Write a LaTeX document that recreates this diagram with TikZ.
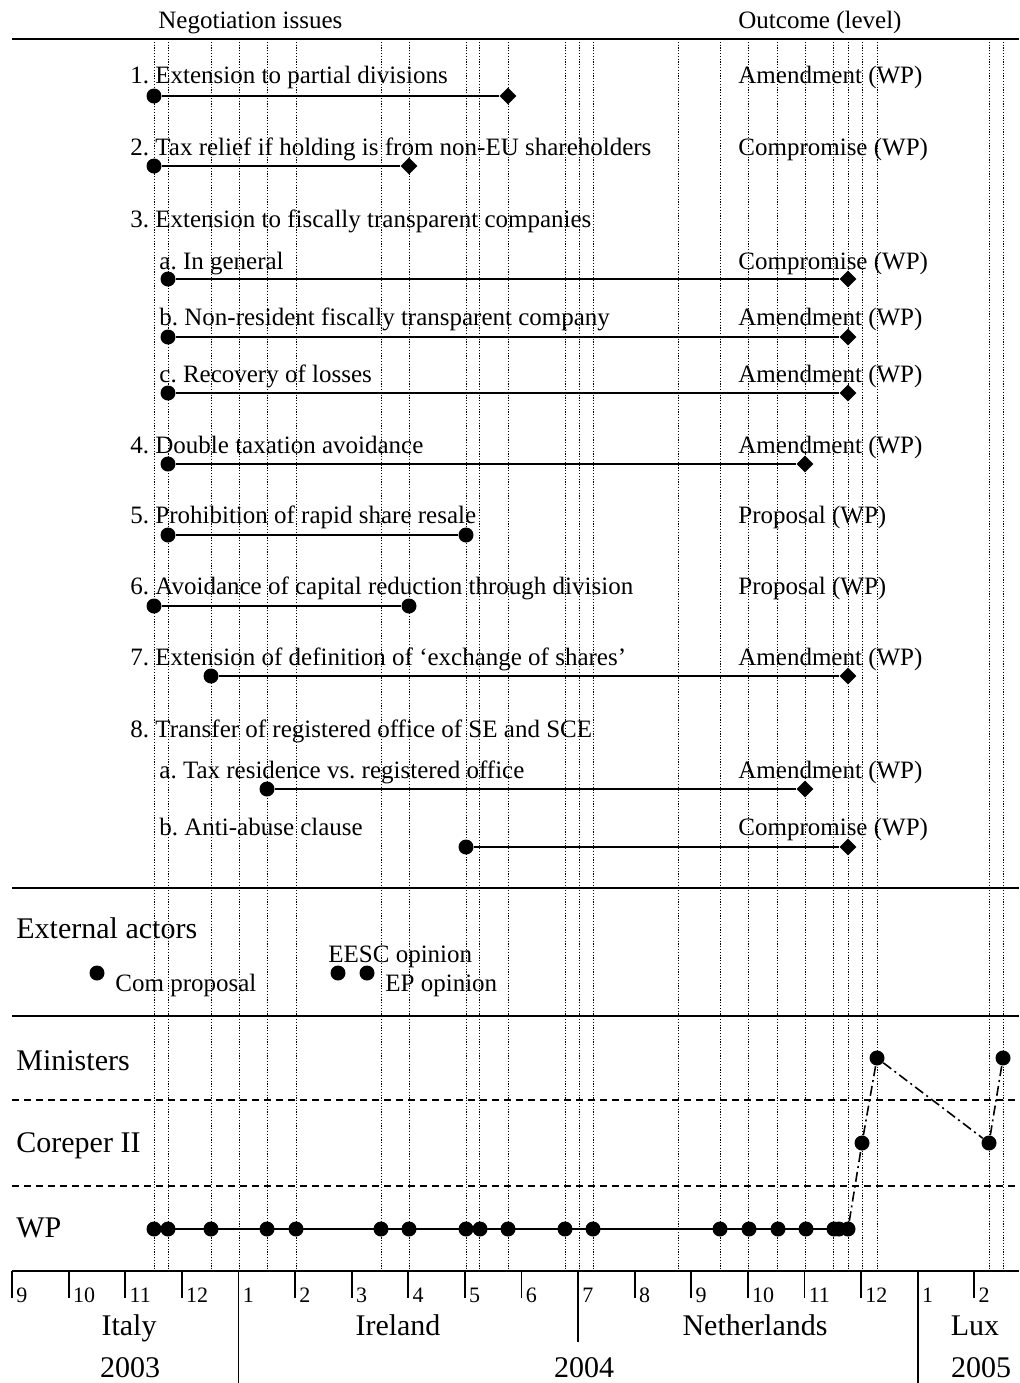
\documentclass[tikz,border=0pt]{standalone}
\usepackage{fontspec}
\setmainfont{Liberation Serif}
\usetikzlibrary{shapes.geometric}
\frenchspacing

\begin{document}
\begin{tikzpicture}[x=0.5pt, y=-0.5pt,
    evt/.style={circle, fill, inner sep=0pt, minimum size=7.5pt},
    endd/.style={diamond, fill, inner sep=0pt, minimum size=8.5pt},
    dateline/.style={line width=0.5pt, dash pattern=on 0.6pt off 0.8pt},
    issueline/.style={line width=1pt},
    sepline/.style={line width=1pt},
    lvline/.style={line width=0.8pt, dash pattern=on 3.5pt off 2.5pt},
    chain/.style={line width=0.8pt, dash pattern=on 5pt off 2pt on 1pt off 2pt},
    tick/.style={line width=0.9pt},
    txt/.style={anchor=base west, inner sep=0pt, font=\fontsize{12.5}{15}\selectfont},
    big/.style={anchor=base west, inner sep=0pt, font=\fontsize{15}{18}\selectfont},
    mon/.style={anchor=base west, inner sep=0pt, font=\fontsize{11}{13}\selectfont},
    pres/.style={anchor=base, inner sep=0pt, font=\fontsize{15}{18}\selectfont}]
    % 参数设置
    \def\xo{12} % 2003年9月刻度
    \def\mw{56.6} % 每月宽度
    \def\ax{1271} % 时间轴

    \useasboundingbox (0,0) rectangle (1019,1383);

    % 会议日期的竖向点线
    \foreach \x in {154,168,211,239,267,296,381,409,466,479,508,565,579,593,678,720,748,777,805,833,848,862,877,989,1003} {
      \draw[dateline] (\x,39) -- (\x,\ax);
    }

    % 横线
    \draw[line width=1.3pt] (12,39) -- (1019,39);
    \draw[sepline] (12,888) -- (1019,888);
    \draw[sepline] (12,1016) -- (1019,1016);
    \draw[lvline] (12,1100) -- (1019,1100);
    \draw[lvline] (12,1186) -- (1019,1186);

    % 表头
    \node[txt] (hissue) at (158,28) {Negotiation issues};
    \node[txt] (hout) at (738,28) {Outcome (level)};

    % 议题
    \foreach \n/\x/\y/\t in {1/130/83/{1. Extension to partial divisions},
        2/130/155/{2. Tax relief if holding is from non-EU shareholders},
        3/130/227/{3. Extension to fiscally transparent companies},
        3a/159/269/{a. In general},
        3b/159/325/{b. Non-resident fiscally transparent company},
        3c/159/382/{c. Recovery of losses},
        4/130/453/{4. Double taxation avoidance},
        5/130/523/{5. Prohibition of rapid share resale},
        6/130/594/{6. Avoidance of capital reduction through division},
        7/130/665/{7. Extension of definition of ‘exchange of shares’},
        8/130/737/{8. Transfer of registered office of SE and SCE},
        8a/159/778/{a. Tax residence vs. registered office},
        8b/159/835/{b. Anti-abuse clause}} {
      \node[txt] (lbl\n) at (\x,\y) {\t};
    }

    % 结果
    \foreach \n/\y/\t in {1/83/Amendment, 2/155/Compromise, 3a/269/Compromise,
        3b/325/Amendment, 3c/382/Amendment, 4/453/Amendment, 5/523/Proposal,
        6/594/Proposal, 7/665/Amendment, 8a/778/Amendment, 8b/835/Compromise} {
      \node[txt] (out\n) at (738,\y) {\t{} (WP)};
    }

    % 议题的时间段
    \foreach \n/\y/\a/\b/\e in {1/96/154/508/endd, 2/166/154/409/endd,
        3a/279/168/848/endd, 3b/337/168/848/endd, 3c/393/168/848/endd,
        4/464/168/805/endd, 5/535/168/466/evt, 6/606/154/409/evt,
        7/676/211/848/endd, 8a/789/267/805/endd, 8b/847/466/848/endd} {
      \node[evt] (s\n) at (\a,\y) {};
      \node[\e] (e\n) at (\b,\y) {};
      \draw[issueline] (s\n) -- (e\n);
    }

    % 外部行为者
    \node[big] (ext) at (16,938) {External actors};
    \node[evt] (com) at (97,973) {};
    \node[txt] (comlbl) at (115,991) {Com proposal};
    \node[evt] (eesc) at (338,973) {};
    \node[txt] (eesclbl) at (328,962) {EESC opinion};
    \node[evt] (ep) at (367,973) {};
    \node[txt] (eplbl) at (385,991) {EP opinion};

    % 层级
    \node[big] (min) at (16,1070) {Ministers};
    \node[big] (cor) at (16,1152) {Coreper II};
    \node[big] (wp) at (16,1237) {WP};

    % 工作组会议
    \foreach \x [count=\i] in {154,168,211,267,296,381,409,466,480,508,565,593,720,749,778,806,834,839,848} {
      \node[evt] (w\i) at (\x,1229) {};
    }
    \draw[issueline] (w1) -- (w19);

    % Coreper 与部长
    \node[evt] (c1) at (862,1143) {};
    \node[evt] (m1) at (877,1058) {};
    \node[evt] (c2) at (989,1143) {};
    \node[evt] (m2) at (1003,1058) {};
    \draw[chain] (w19) -- (c1) -- (m1) -- (c2) -- (m2);

    % 时间轴与月份
    \draw[line width=1.2pt] (12,\ax) -- (1019,\ax);
    \foreach \m/\lab in {0/9,1/10,2/11,3/12,4/1,5/2,6/3,7/4,8/5,9/6,10/7,11/8,12/9,13/10,14/11,15/12,16/1,17/2} {
      \draw[tick] (\xo+\mw*\m,\ax) -- ++(0,27);
      \node[mon] (mo\m) at (\xo+\mw*\m+4,1302) {\lab};
    }
    \draw[tick] (\xo+\mw*4,\ax) -- (\xo+\mw*4,1383);
    \draw[tick] (\xo+\mw*10,\ax) -- (\xo+\mw*10,1342);
    \draw[tick] (\xo+\mw*16,\ax) -- (\xo+\mw*16,1383);

    % 轮值主席国与年份
    \node[pres] (it) at (129,1335) {Italy};
    \node[pres] (ie) at (398,1335) {Ireland};
    \node[pres] (nl) at (755,1335) {Netherlands};
    \node[pres] (lu) at (975,1335) {Lux};
    \node[pres] (y3) at (130,1377) {2003};
    \node[pres] (y4) at (584,1377) {2004};
    \node[pres] (y5) at (981,1377) {2005};

  \end{tikzpicture}
\end{document}
